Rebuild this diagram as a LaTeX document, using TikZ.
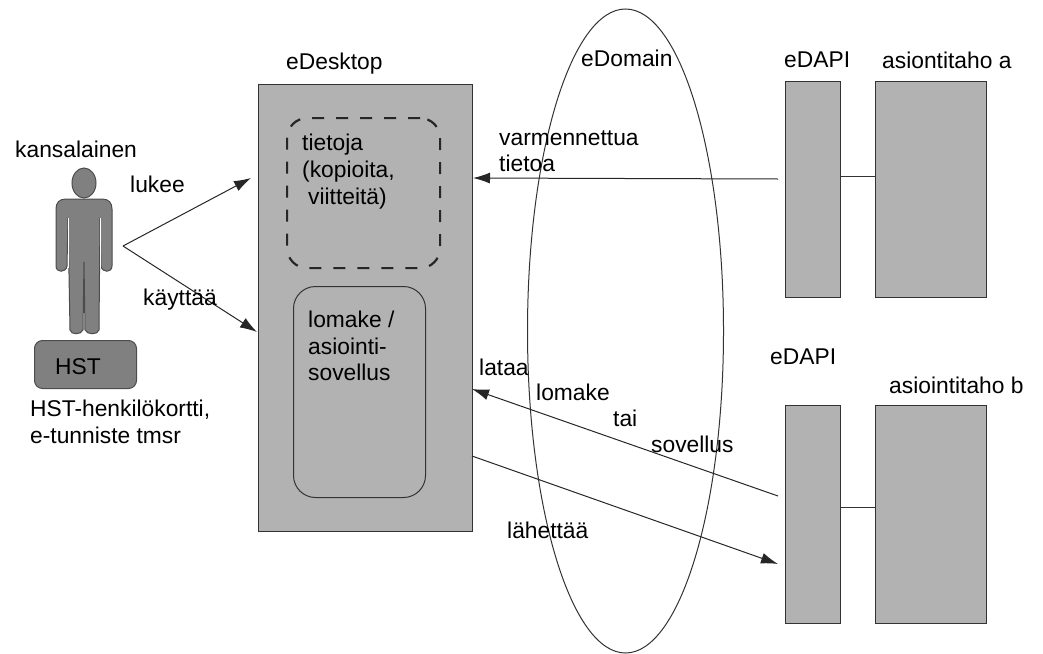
\documentclass[tikz,border=0pt]{standalone}
\usepackage{fontspec}
\setmainfont{Liberation Sans}
\tikzset{
	lbl/.style={anchor=west,inner sep=0pt,align=left,font=\fontsize{22.8}{26.5}\selectfont},
	greybox/.style={draw=black!80,fill=black!30,line width=1.2pt,minimum width=#1,anchor=north west,inner sep=0pt},
	arr/.style={-{Latex[length=17pt,width=11pt]},line width=1pt,black!85},
	darkgrey/.style={draw=black!70,fill=black!50,line width=1pt}
}
\usetikzlibrary{arrows.meta}
\begin{document}
\begin{tikzpicture}[x=1pt,y=-1pt]
	\useasboundingbox (0,0) rectangle (1043,653);
	% boxes
	\node[greybox=214pt,minimum height=447pt] (eDesktop) at (258,84) {};
	\node[greybox=55pt,minimum height=216pt] (eDAPIa) at (785,81) {};
	\node[greybox=111pt,minimum height=216pt] (tahoa) at (875,81) {};
	\node[greybox=55pt,minimum height=218pt] (eDAPIb) at (785,405) {};
	\node[greybox=111pt,minimum height=218pt] (tahob) at (875,405) {};
	\draw[line width=1pt,black!80] (eDAPIa.east |- 0,176) -- (tahoa.west |- 0,176);
	\draw[line width=1pt,black!80] (eDAPIb.east |- 0,507) -- (tahob.west |- 0,507);
	\node[draw=black!85,line width=2.2pt,dash pattern=on 12pt off 12pt,rounded corners=20pt,minimum width=153pt,minimum height=150pt,anchor=north west] (tietoja) at (286,117) {};
	\node[draw=black!80,line width=1pt,rounded corners=22pt,minimum width=132pt,minimum height=211pt,anchor=north west] (lomake) at (293,286) {};
	% eDomain
	\draw[line width=1pt,black!80] (625.5,331) ellipse (98 and 322);
	% kansalainen
	\draw[darkgrey] (84,183) ellipse (12 and 15);
	\draw[darkgrey] (66,199) -- (102,199) .. controls (109,199) and (112,203) .. (112,209) -- (112,266) .. controls (112,273) and (102,273) .. (101,266) -- (100,218) -- (99,330) .. controls (98,335) and (87,335) .. (85,330) -- (84,262) -- (83,330) .. controls (81,335) and (71,335) .. (70,330) -- (68,218) -- (67,266) .. controls (66,273) and (56,273) .. (56,266) -- (56,209) .. controls (56,203) and (59,199) .. (66,199) -- cycle;
	\draw[white,line width=1pt] (68,218) -- (68,268) (100,218) -- (100,268);
	\node[darkgrey,rounded corners=8pt,minimum width=102pt,minimum height=48pt,anchor=north west] (HSTbox) at (34,340) {};
	\node[lbl,anchor=center] (HST) at (78,367) {HST};
	% arrows
	\coordinate (apex) at (123,246);
	\coordinate (lukeeEnd) at (251,178);
	\coordinate (kaytEnd) at (257,332);
	\coordinate (varmEnd) at (473,178);
	\coordinate (varmStart) at (778,179);
	\coordinate (lataaStart) at (778,496);
	\coordinate (lataaEnd) at (472,389);
	\coordinate (lahStart) at (472,456);
	\coordinate (lahEnd) at (778,564);
	\draw[arr] (apex) -- (lukeeEnd);
	\draw[arr] (apex) -- (kaytEnd);
	\draw[arr] (varmStart) -- (varmEnd);
	\draw[arr] (lataaStart) -- (lataaEnd);
	\draw[arr] (lahStart) -- (lahEnd);
	% labels
	\node[lbl] (kansalainen) at (15,149) {kansalainen};
	\node[lbl] (lukee) at (130,184) {lukee};
	\node[lbl] (kayttaa) at (143,300) {käyttää};
	\node[lbl] (korttiText) at (30,422) {HST-henkilökortti,\\e-tunniste tmsr};
	\node[lbl] (eDesktopText) at (286,64) {eDesktop};
	\node[lbl] (eDomainText) at (581,58) {eDomain};
	\node[lbl] (eDAPIaText) at (784,60) {eDAPI};
	\node[lbl] (tahoaText) at (882,60) {asiontitaho a};
	\node[lbl] (tietojaText) at (302,145) {tietoja};
	\node[lbl] (kopioita) at (302,172) {(kopioita,};
	\node[lbl] (viitteita) at (308,199) {viitteitä)};
	\node[lbl] (lomakeText) at (308,346) {lomake /\\asiointi-\\sovellus};
	\node[lbl] (varm) at (499,151) {varmennettua\\tietoa};
	\node[lbl] (lataa) at (479,367) {lataa};
	\node[lbl] (lomakeB) at (536,392) {lomake};
	\node[lbl] (tai) at (613,418) {tai};
	\node[lbl] (sovellusB) at (651,444) {sovellus};
	\node[lbl] (lahettaa) at (507,530) {lähettää};
	\node[lbl] (eDAPIbText) at (770,357) {eDAPI};
	\node[lbl] (tahobText) at (889,385) {asiointitaho b};
\end{tikzpicture}
\end{document}
